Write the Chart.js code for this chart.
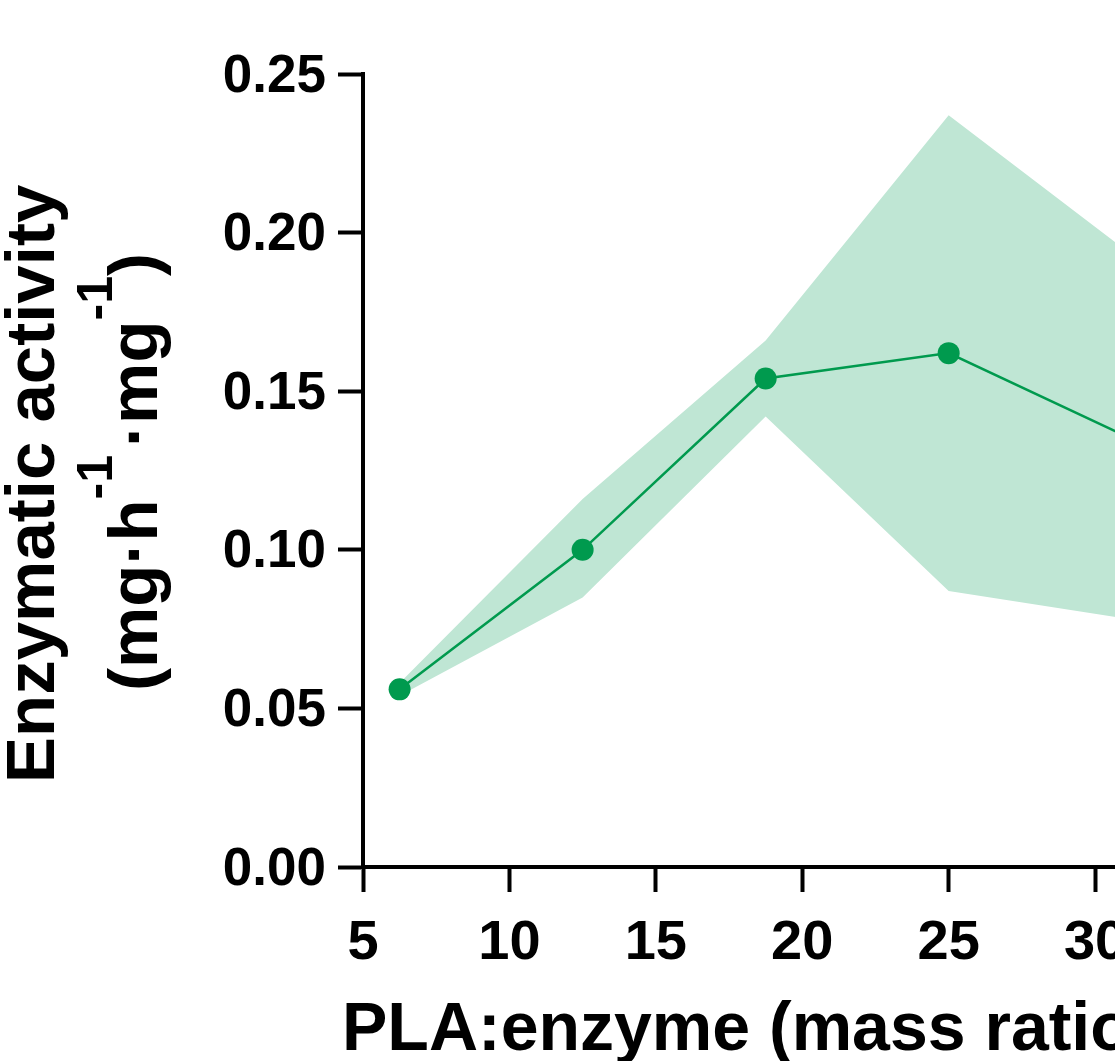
<!DOCTYPE html>
<html><head><meta charset="utf-8">
<script src="https://cdn.jsdelivr.net/npm/chart.js@4.4.0/dist/chart.umd.min.js"></script>
<style>
html,body{margin:0;padding:0;overflow:hidden;background:#fff;width:1115px;height:1061px}
#wrap{position:relative;width:1150px;height:1075px}
</style>
</head><body><div id="wrap"><canvas id="c" width="1150" height="1075"></canvas></div>
<script>
// ---- data ----
const ratios = [6.25, 12.5, 18.75, 25, 31.25];
const activityMean = [0.056, 0.100, 0.154, 0.162, 0.135];
const activityUpper = [0.058, 0.116, 0.166, 0.237, 0.193];
const activityLower = [0.054, 0.085, 0.142, 0.087, 0.078];
const xTickValues = [5, 10, 15, 20, 25, 30];
const yTickValues = [0, 0.05, 0.10, 0.15, 0.20, 0.25];
const xTitle = 'PLA:enzyme (mass ratio)';
const yTitleLine1 = 'Enzymatic activity';
const yTitleParts = ['(mg·h', '-1', '·mg', '-1', ')'];
const yTitleSuper = [false, true, false, true, false];

const FONT = "'Liberation Sans', Arial, Helvetica, sans-serif";
const GREEN = '#009a4e';
const BAND = 'rgba(191,230,212,1)';

const pts = a => ratios.map((x, i) => ({x, y: a[i]}));

const titlesPlugin = {
  id: 'axisTitles',
  afterDraw(chart) {
    const ctx = chart.ctx;
    const gaps = [0, 8, 0, 0, 0];
    ctx.save();
    ctx.fillStyle = '#000';
    ctx.textBaseline = 'alphabetic';
    ctx.textAlign = 'left';
    // x title
    ctx.font = `bold 68px ${FONT}`;
    ctx.fillText(xTitle, 342, 1050);
    // y title line 1
    ctx.save();
    ctx.translate(54, 783);
    ctx.rotate(-Math.PI / 2);
    ctx.font = `bold 69px ${FONT}`;
    ctx.fillText(yTitleLine1, 0, 0);
    ctx.restore();
    // y title line 2 with superscripts
    ctx.save();
    ctx.translate(157, 691);
    ctx.rotate(-Math.PI / 2);
    let pos = 0;
    yTitleParts.forEach((t, i) => {
      const sup = yTitleSuper[i];
      ctx.font = sup ? `bold 50px ${FONT}` : `bold 69px ${FONT}`;
      ctx.fillText(t, pos, sup ? -45 : 0);
      pos += ctx.measureText(t).width + gaps[i];
    });
    ctx.restore();
    ctx.restore();
  }
};

new Chart(document.getElementById('c'), {
  type: 'line',
  data: {
    datasets: [
      {
        label: 'mean',
        data: pts(activityMean),
        borderColor: GREEN,
        backgroundColor: GREEN,
        borderWidth: 2.5,
        pointRadius: 11,
        pointBackgroundColor: GREEN,
        pointBorderWidth: 0,
        fill: false,
        order: 0
      },
      {
        label: 'upper',
        data: pts(activityUpper),
        borderWidth: 0,
        borderColor: 'rgba(0,0,0,0)',
        pointRadius: 0,
        backgroundColor: BAND,
        fill: '+1',
        order: 1
      },
      {
        label: 'lower',
        data: pts(activityLower),
        borderWidth: 0,
        borderColor: 'rgba(0,0,0,0)',
        pointRadius: 0,
        backgroundColor: BAND,
        fill: false,
        order: 2
      }
    ]
  },
  options: {
    responsive: false,
    animation: false,
    devicePixelRatio: 1,
    layout: { padding: { top: 74, left: 0, right: 0, bottom: 0 } },
    plugins: { legend: { display: false }, tooltip: { enabled: false } },
    scales: {
      x: {
        type: 'linear',
        min: 5,
        max: 31.5,
        afterBuildTicks(s) { s.ticks = xTickValues.map(v => ({value: v})); },
        afterFit(s) { s.height = 1075 - 867; },
        border: { display: true, color: '#000', width: 4 },
        grid: { drawOnChartArea: false, drawTicks: true, tickLength: 25, tickWidth: 4, color: '#000' },
        ticks: { color: '#000', padding: 18, maxRotation: 0, font: { family: FONT, weight: 'bold', size: 56 } },
        title: { display: false }
      },
      y: {
        type: 'linear',
        min: 0,
        max: 0.25,
        afterBuildTicks(s) { s.ticks = yTickValues.map(v => ({value: v})); },
        afterFit(s) { s.width = 363; },
        border: { display: true, color: '#000', width: 4 },
        grid: { drawOnChartArea: false, drawTicks: true, tickLength: 25, tickWidth: 4, color: '#000' },
        ticks: { color: '#000', padding: 12, labelOffset: 3, callback: v => v.toFixed(2), font: { family: FONT, weight: 'bold', size: 53 } }
      }
    }
  },
  plugins: [titlesPlugin]
});
</script>
</body></html>
